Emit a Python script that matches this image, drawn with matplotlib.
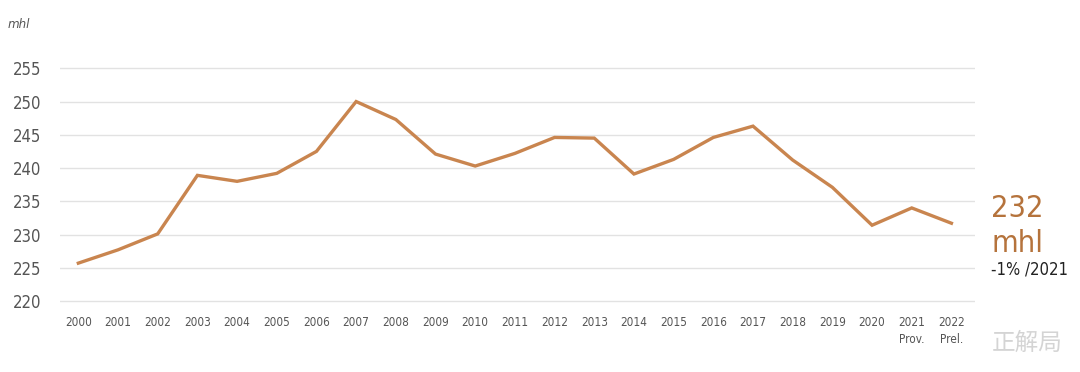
import matplotlib
matplotlib.use('Agg')
import matplotlib.pyplot as plt

years = list(range(2000, 2023))
consumption = [225.7, 227.7, 230.1, 238.9, 238.0, 239.2, 242.5, 250.0, 247.3, 242.1,
               240.3, 242.2, 244.6, 244.5, 239.1, 241.3, 244.6, 246.3, 241.2, 237.1,
               231.4, 234.0, 231.7]
xlabels = [str(y) for y in years]
xlabels[-2] = '2021\nProv.'
xlabels[-1] = '2022\nPrel.'
yticks = [220, 225, 230, 235, 240, 245, 250, 255]

narrow = dict(family='DejaVu Sans', stretch='condensed')

line_c = '#c9854f'
label_c = '#b5733c'

fig = plt.figure(figsize=(10.8, 3.72), dpi=100)
ax = fig.add_axes([0.056, 0.1836, 0.847, 0.640])

ax.plot(range(len(years)), consumption, color=line_c, lw=2.4, solid_joinstyle='miter')

ax.set_xlim(-0.45, 22.6)
ax.set_ylim(219.6, 255.4)
ax.set_yticks(yticks)
ax.set_yticklabels([str(v) for v in yticks], fontsize=12, color='#555555', **narrow)
ax.set_xticks(range(len(years)))
ax.set_xticklabels(xlabels, fontsize=8.5, color='#555555', va='top',
                   linespacing=1.35, **narrow)
ax.tick_params(length=0, pad=9)
ax.tick_params(axis='y', pad=14)
ax.grid(axis='y', color='#e2e2e2', lw=1)
ax.set_axisbelow(True)
for s in ax.spines.values():
    s.set_visible(False)

fig.text(0.007, 0.925, 'mhl', style='italic', fontsize=9.5, color='#555555', **narrow)
fig.text(0.918, 0.418, '232', fontsize=22, color=label_c, **narrow)
fig.text(0.918, 0.323, 'mhl', fontsize=22, color=label_c, **narrow)
fig.text(0.918, 0.262, '-1% /2021', fontsize=12, color='#222222', **narrow)
fig.text(0.918, 0.06, '正解局', family=['Noto Sans CJK SC', 'DejaVu Sans'], fontsize=17,
         color='#d4d4d4', weight='light')

fig.savefig('out.png', dpi=100, facecolor='white')
